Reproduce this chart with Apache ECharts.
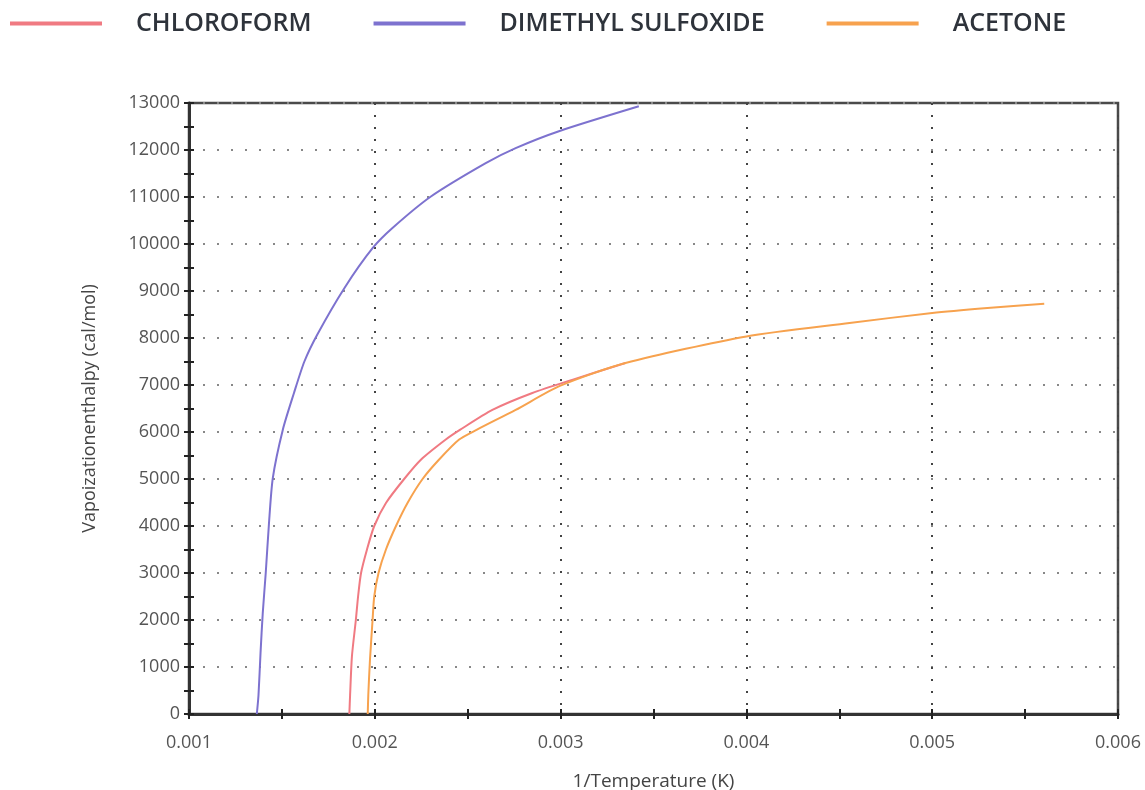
<!DOCTYPE html>
<html>
<head>
<meta charset="utf-8">
<title>Vaporization enthalpy</title>
<script src="https://cdn.jsdelivr.net/npm/echarts@6/dist/echarts.min.js"></script>
<style>
  html, body { margin: 0; padding: 0; background: #fff; }
  #chart { width: 1145px; height: 790px; }
</style>
</head>
<body>
<div id="chart"></div>
<script>
// [1/T (1/K), enthalpy (cal/mol)]
const chloroform = [
  [0.001863, 0], [0.001867, 400], [0.001877, 1230], [0.001898, 2000],
  [0.001910, 2500], [0.001926, 3000], [0.001958, 3500], [0.001997, 4000],
  [0.002060, 4490], [0.002158, 5000], [0.002248, 5410], [0.002382, 5840],
  [0.002460, 6050], [0.002633, 6470], [0.002848, 6830], [0.003062, 7110],
  [0.003349, 7468]
]
const dmso = [
  [0.001365, 0], [0.001374, 400], [0.001385, 1300], [0.001397, 2150],
  [0.001413, 3000], [0.001430, 4030], [0.001451, 5020], [0.001505, 6050],
  [0.001565, 6830], [0.001621, 7500], [0.001690, 8070], [0.001836, 9060],
  [0.001989, 9915], [0.002095, 10340], [0.002302, 11010], [0.002597, 11720],
  [0.002758, 12040], [0.002991, 12400], [0.003421, 12930]
]
const acetone = [
  [0.001962, 0], [0.001965, 410], [0.001974, 1155], [0.001988, 2000],
  [0.001997, 2500], [0.002020, 3000], [0.002060, 3500], [0.002114, 4000],
  [0.002176, 4490], [0.002257, 5000], [0.002345, 5410], [0.002454, 5840],
  [0.002550, 6050], [0.002758, 6470], [0.002996, 6980], [0.003349, 7468],
  [0.004000, 8034], [0.004555, 8319], [0.005000, 8532], [0.005297, 8638],
  [0.005603, 8730]
]
const seriesNames = ['CHLOROFORM', 'DIMETHYL SULFOXIDE', 'ACETONE']
const xRange = [0.001, 0.006, 0.001]
const yRange = [0, 13000, 1000]

const font = '"Open Sans", "Noto Sans", sans-serif'
const tickStyle = { color: '#222', width: 2 }

function axisBase (range) {
  return {
    type: 'value',
    min: range[0],
    max: range[1],
    interval: range[2],
    minorTick: { show: true, splitNumber: 2, length: 5, lineStyle: tickStyle },
    axisTick: { show: true, length: 5, lineStyle: tickStyle }
  }
}

// second, label-less axis so the ticks cross the axis line
function innerTicks (range, pos) {
  return Object.assign(axisBase(range), {
    position: pos,
    axisLine: { show: false },
    axisLabel: { show: false },
    splitLine: { show: false },
    axisTick: { show: true, inside: true, length: 5, lineStyle: tickStyle },
    minorTick: { show: true, splitNumber: 2, length: 5, lineStyle: tickStyle }
  })
}

let chart = echarts.init(document.getElementById('chart'))
let option = {
  backgroundColor: '#fff',
  animation: false,
  color: ['#f07a82', '#7d72cf', '#f7a24e'],
  legend: {
    data: seriesNames,
    left: 5,
    top: 6,
    icon: 'rect',
    itemWidth: 92,
    itemHeight: 4,
    itemGap: 62,
    textStyle: {
      fontFamily: font,
      fontSize: 25,
      fontWeight: 600,
      color: '#2e333b',
      padding: [0, 0, 0, 29]
    }
  },
  grid: {
    left: 189,
    top: 103,
    right: 27,
    bottom: 76,
    outerBoundsMode: 'none',
    show: true,
    borderColor: '#4a4a4a',
    borderWidth: 2.5
  },
  xAxis: [
    Object.assign(axisBase(xRange), {
      name: '1/Temperature (K)',
      nameLocation: 'middle',
      nameGap: 58,
      nameTextStyle: { fontFamily: font, fontSize: 19, color: '#444' },
      axisLine: { show: true, lineStyle: { color: '#333', width: 3 } },
      axisLabel: {
        margin: 20,
        fontFamily: font,
        fontSize: 18,
        color: '#555',
        formatter: v => v.toFixed(3)
      },
      splitLine: { show: true, lineStyle: { color: '#444', width: 2, type: [2, 10] } }
    }),
    innerTicks(xRange, 'bottom')
  ],
  yAxis: [
    Object.assign(axisBase(yRange), {
      name: 'Vapoizationenthalpy (cal/mol)',
      nameLocation: 'middle',
      nameGap: 90,
      nameTextStyle: { fontFamily: font, fontSize: 18, color: '#444' },
      axisLine: { show: true, lineStyle: { color: '#333', width: 3 } },
      axisLabel: {
        margin: 9,
        fontFamily: font,
        fontSize: 18,
        color: '#555',
        formatter: v => String(v)
      },
      splitLine: { show: true, lineStyle: { color: '#888', width: 2, type: [2, 12] } }
    }),
    innerTicks(yRange, 'left')
  ],
  series: [
    { name: seriesNames[0], type: 'line', data: chloroform, smooth: 0.25, showSymbol: false, lineStyle: { width: 2 }, z: 3 },
    { name: seriesNames[1], type: 'line', data: dmso, smooth: 0.25, showSymbol: false, lineStyle: { width: 2 }, z: 3 },
    { name: seriesNames[2], type: 'line', data: acetone, smooth: 0.25, showSymbol: false, lineStyle: { width: 2 }, z: 4 }
  ]
}
chart.setOption(option)
window.addEventListener('resize', () => chart.resize())
</script>
</body>
</html>
